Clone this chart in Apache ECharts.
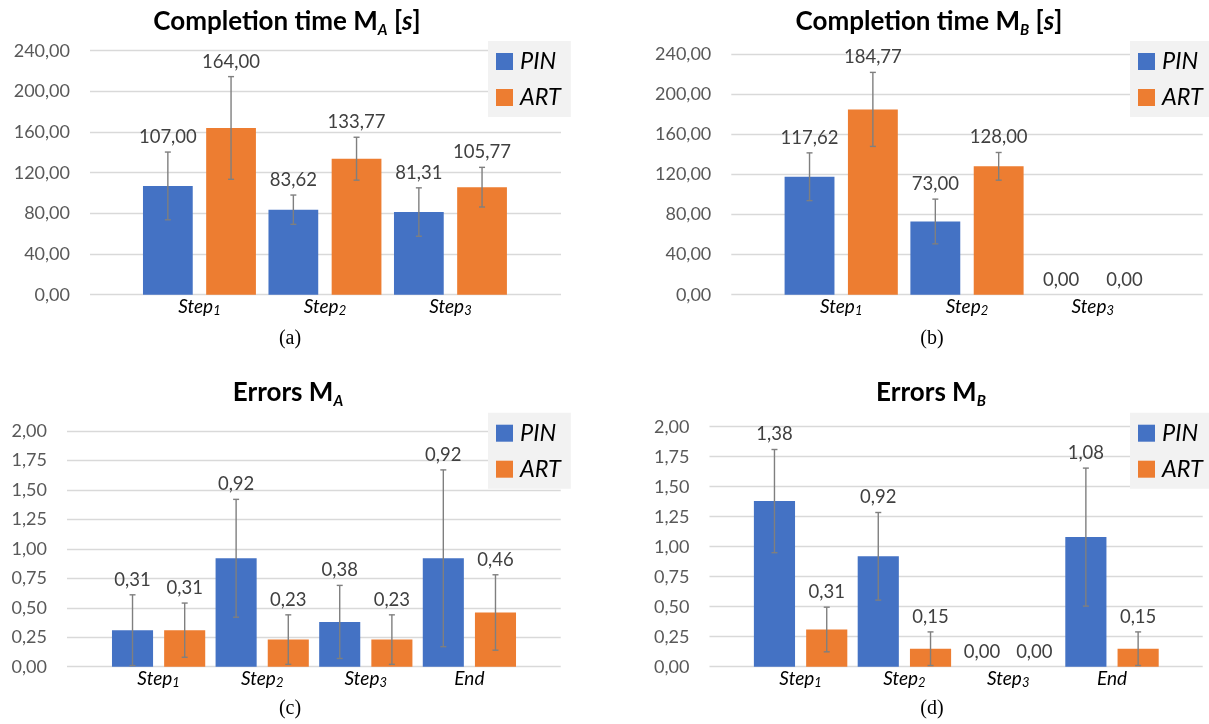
<!DOCTYPE html>
<html>
<head>
<meta charset="utf-8">
<script src="https://cdn.jsdelivr.net/npm/echarts@6/dist/echarts.min.js"></script>
<style>
html,body{margin:0;padding:0;background:#fff;}
#c{width:1209px;height:724px;}
</style>
</head>
<body>
<div id="c"></div>
<script>
// ---------- data ----------
const categoriesTime = ['Step1', 'Step2', 'Step3'];
const categoriesErr = ['Step1', 'Step2', 'Step3', 'End'];
const seriesNames = ['PIN', 'ART'];

const timeA_PIN = [107.00, 83.62, 81.31];
const timeA_PIN_sd = [33.3, 14.4, 23.8];
const timeA_ART = [164.00, 133.77, 105.77];
const timeA_ART_sd = [50.5, 21.1, 19.5];

const timeB_PIN = [117.62, 73.00, 0.00];
const timeB_PIN_sd = [23.8, 22.3, 0];
const timeB_ART = [184.77, 128.00, 0.00];
const timeB_ART_sd = [36.9, 13.8, 0];

const errA_PIN = [0.31, 0.92, 0.38, 0.92];
const errA_PIN_sd = [0.30, 0.50, 0.31, 0.75];
const errA_ART = [0.31, 0.23, 0.23, 0.46];
const errA_ART_sd = [0.23, 0.21, 0.21, 0.32];

const errB_PIN = [1.38, 0.92, 0.00, 1.08];
const errB_PIN_sd = [0.43, 0.365, 0, 0.575];
const errB_ART = [0.31, 0.15, 0.00, 0.15];
const errB_ART_sd = [0.186, 0.14, 0, 0.14];

const timeTicks = {min: 0, max: 240, interval: 40};
const errTicks = {min: 0, max: 2, interval: 0.25};

// ---------- style ----------
const BLUE = '#4472C4', ORANGE = '#ED7D31';
const FONT = 'Lato';
const BAR_GAP = 0.27, CAT_GAP = 0.10;
const fmt = v => v.toFixed(2).replace('.', ',');

const panels = [
  {title: ['Completion time M', 'A', true], caption: '(a)', cats: categoriesTime, ticks: timeTicks,
   pin: timeA_PIN, pinSd: timeA_PIN_sd, art: timeA_ART, artSd: timeA_ART_sd,
   bg: {left: 90, top: 50.7, width: 471, bottom: 294.7}, bars: {left: 136.7, width: 376.5},
   titleX: 287, titleTop: 6, capX: 290, capY: 339, legend: {left: 488, top: 41}},
  {title: ['Completion time M', 'B', true], caption: '(b)', cats: categoriesTime, ticks: timeTicks,
   pin: timeB_PIN, pinSd: timeB_PIN_sd, art: timeB_ART, artSd: timeB_ART_sd,
   bg: {left: 731.3, top: 54, width: 471.4, bottom: 294.7}, bars: {left: 778.3, width: 377.4},
   titleX: 929, titleTop: 6, capX: 932, capY: 339, legend: {left: 1130, top: 41}},
  {title: ['Errors M', 'A', false], caption: '(c)', cats: categoriesErr, ticks: errTicks,
   pin: errA_PIN, pinSd: errA_PIN_sd, art: errA_ART, artSd: errA_ART_sd,
   bg: {left: 67, top: 431, width: 493.7, bottom: 666.7}, bars: {left: 106.8, width: 414.4},
   titleX: 288, titleTop: 377, capX: 290, capY: 709, legend: {left: 488, top: 412.7}},
  {title: ['Errors M', 'B', false], caption: '(d)', cats: categoriesErr, ticks: errTicks,
   pin: errB_PIN, pinSd: errB_PIN_sd, art: errB_ART, artSd: errB_ART_sd,
   bg: {left: 709.5, top: 426.7, width: 493.2, bottom: 666.7}, bars: {left: 748.7, width: 415.2},
   titleX: 931, titleTop: 377, capX: 932, capY: 709, legend: {left: 1130, top: 412.7}}
];

const option = {
  backgroundColor: '#fff',
  animation: false,
  title: [], legend: [], grid: [], xAxis: [], yAxis: [], series: []
};

const titleRich = {
  b: {fontFamily: FONT, fontWeight: 'bold', fontSize: 26, color: '#000', lineHeight: 32},
  bi: {fontFamily: FONT, fontWeight: 'bold', fontStyle: 'italic', fontSize: 26, color: '#000', lineHeight: 32},
  sub: {fontFamily: FONT, fontWeight: 'bold', fontStyle: 'italic', fontSize: 15, color: '#000', lineHeight: 14, verticalAlign: 'bottom'}
};

function errSeries(name, xi, yi, vals, sds, side) {
  return {
    type: 'custom', name: name, xAxisIndex: xi, yAxisIndex: yi, z: 10, silent: true,
    data: vals.map((v, i) => [i, v, sds[i]]),
    encode: {x: 0, y: 1},
    renderItem: function (params, api) {
      const i = api.value(0), v = api.value(1), sd = api.value(2);
      const catW = api.size([1, 0])[0];
      const bw = catW * (1 - CAT_GAP) / (2 + BAR_GAP);
      const x = api.coord([i, v])[0] + side * bw * (1 + BAR_GAP) / 2;
      const top = api.coord([i, v + sd])[1];
      const bot = api.coord([i, v - sd])[1];
      const lineStyle = {stroke: '#7f7f7f', lineWidth: 1.4};
      const children = [];
      if (sd > 0) {
        children.push({type: 'line', shape: {x1: x, y1: top, x2: x, y2: bot}, style: lineStyle});
        children.push({type: 'line', shape: {x1: x - 3, y1: top, x2: x + 3, y2: top}, style: lineStyle});
        children.push({type: 'line', shape: {x1: x - 3, y1: bot, x2: x + 3, y2: bot}, style: lineStyle});
      }
      children.push({type: 'text', style: {x: x, y: top - 15, text: fmt(v), align: 'center', verticalAlign: 'middle',
        fontFamily: FONT, fontSize: 18.5, fill: '#404040'}});
      return {type: 'group', children: children};
    }
  };
}

panels.forEach((p, k) => {
  option.title.push({
    text: '{b|' + p.title[0] + '}{sub|' + p.title[1] + '}' + (p.title[2] ? '{b| [}{bi|s}{b|]}' : ''),
    left: p.titleX, top: p.titleTop, textAlign: 'center', padding: 0,
    textStyle: {rich: titleRich}
  });
  option.title.push({
    text: p.caption, left: p.capX, top: p.capY - 11, textAlign: 'center', padding: 0,
    textStyle: {fontFamily: 'Liberation Serif', fontSize: 20, fontWeight: 'normal', color: '#000', lineHeight: 22}
  });
  option.legend.push({
    data: seriesNames, orient: 'vertical', left: p.legend.left, top: p.legend.top,
    backgroundColor: '#f2f2f2', padding: [9, 10, 8, 8], itemGap: 13, itemWidth: 17, itemHeight: 17,
    icon: 'rect', selectedMode: false,
    textStyle: {fontFamily: FONT, fontStyle: 'italic', fontSize: 23.5, color: '#000', lineHeight: 17, padding: [0, 0, 0, 2]}
  });
  const gBg = k * 2, gBar = k * 2 + 1;
  const height = p.bg.bottom - p.bg.top;
  option.grid.push({left: p.bg.left, top: p.bg.top, width: p.bg.width, height: height, containLabel: false, outerBoundsMode: 'none'});
  option.grid.push({left: p.bars.left, top: p.bg.top, width: p.bars.width, height: height, containLabel: false, outerBoundsMode: 'none'});
  option.xAxis.push({type: 'category', gridIndex: gBg, data: p.cats, show: false});
  option.yAxis.push({
    type: 'value', gridIndex: gBg, min: p.ticks.min, max: p.ticks.max, interval: p.ticks.interval,
    axisLine: {show: false}, axisTick: {show: false},
    splitLine: {show: true, lineStyle: {color: '#d9d9d9', width: 1.3}},
    axisLabel: {margin: 20, fontFamily: FONT, fontSize: 18, color: '#595959', formatter: v => fmt(v)}
  });
  option.xAxis.push({
    type: 'category', gridIndex: gBar, data: p.cats,
    axisLine: {show: false}, axisTick: {show: false}, splitLine: {show: false},
    axisLabel: {
      margin: 1, interval: 0,
      formatter: function (v) {
        const m = /^(Step)(\d)$/.exec(v);
        return m ? '{s|' + m[1] + '}{n|' + m[2] + '}' : '{s|' + v + '}';
      },
      rich: {
        s: {fontFamily: FONT, fontStyle: 'italic', fontSize: 19, color: '#000', lineHeight: 22},
        n: {fontFamily: FONT, fontStyle: 'italic', fontSize: 13, color: '#000', lineHeight: 12, verticalAlign: 'bottom'}
      }
    }
  });
  option.yAxis.push({type: 'value', gridIndex: gBar, min: p.ticks.min, max: p.ticks.max, interval: p.ticks.interval, show: false, splitLine: {show: false}});
  option.series.push({
    type: 'bar', name: 'PIN', xAxisIndex: gBar, yAxisIndex: gBar, data: p.pin,
    itemStyle: {color: BLUE}, barGap: (BAR_GAP * 100) + '%', barCategoryGap: (CAT_GAP * 100) + '%', silent: true
  });
  option.series.push({
    type: 'bar', name: 'ART', xAxisIndex: gBar, yAxisIndex: gBar, data: p.art,
    itemStyle: {color: ORANGE}, barGap: (BAR_GAP * 100) + '%', barCategoryGap: (CAT_GAP * 100) + '%', silent: true
  });
  option.series.push(errSeries('errPIN' + k, gBar, gBar, p.pin, p.pinSd, -1));
  option.series.push(errSeries('errART' + k, gBar, gBar, p.art, p.artSd, 1));
});

const chart = echarts.init(document.getElementById('c'), null, {renderer: 'canvas'});
chart.setOption(option);
</script>
</body>
</html>
